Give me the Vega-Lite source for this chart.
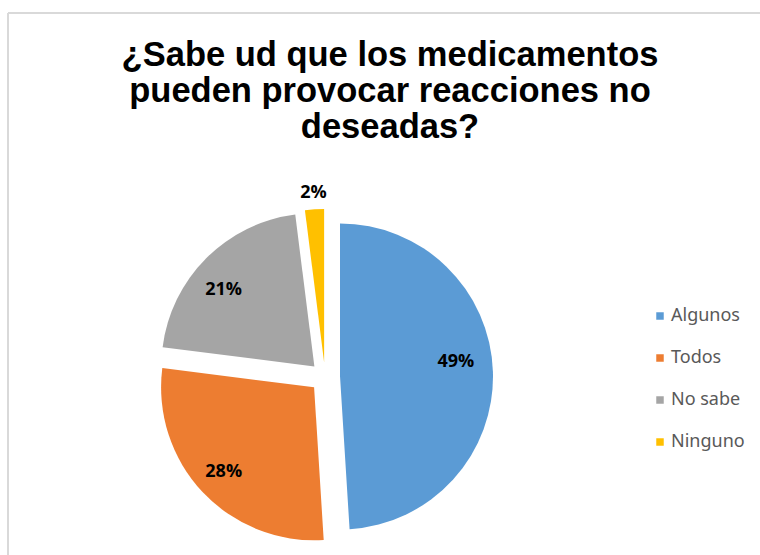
{
  "$schema": "https://vega.github.io/schema/vega-lite/v6.json",
  "autosize": {"type": "none"},
  "width": 752,
  "height": 542,
  "padding": {"left": 8, "top": 13, "right": 0, "bottom": 0},
  "background": "white",
  "config": {
    "view": {"stroke": null},
    "legend": {"padding": 0}
  },
  "title": {
    "text": ["¿Sabe ud que los medicamentos", "pueden provocar reacciones no", "deseadas?"],
    "font": "Liberation Sans",
    "fontSize": 34.5,
    "fontWeight": "bold",
    "color": "#000000",
    "anchor": "middle",
    "frame": "group",
    "baseline": "top",
    "lineHeight": 36,
    "offset": 0,
    "dx": 6,
    "dy": 133
  },
  "data": {
    "values": [
      {"cat": "Algunos", "pct": 0.49},
      {"cat": "Todos", "pct": 0.28},
      {"cat": "No sabe", "pct": 0.21},
      {"cat": "Ninguno", "pct": 0.02}
    ]
  },
  "encoding": {
    "theta": {"field": "pct", "type": "quantitative", "stack": true},
    "order": {"field": "pct", "type": "quantitative", "sort": "descending"},
    "color": {
      "field": "cat",
      "type": "nominal",
      "sort": ["Algunos", "Todos", "No sabe", "Ninguno"],
      "scale": {
        "domain": ["Algunos", "Todos", "No sabe", "Ninguno"],
        "range": ["#5B9BD5", "#ED7D31", "#A5A5A5", "#FFC000"]
      },
      "legend": {
        "orient": "none",
        "legendX": 643,
        "legendY": 294,
        "title": null,
        "symbolType": "square",
        "symbolSize": 56,
        "symbolStrokeWidth": 0,
        "symbolOpacity": 1,
        "labelFont": "Noto Sans",
        "labelFontSize": 18,
        "labelColor": "#595959",
        "labelOffset": 2,
        "rowPadding": 24
      }
    }
  },
  "layer": [
    {
      "data": {"values": [{"frame": "top"}]},
      "mark": {"type": "rule", "stroke": "#D9D9D9", "strokeWidth": 2},
      "encoding": {"theta": null, "order": null, "color": null, "y": {"value": 0}}
    },
    {
      "data": {"values": [{"frame": "left"}]},
      "mark": {"type": "rule", "stroke": "#D9D9D9", "strokeWidth": 2},
      "encoding": {"theta": null, "order": null, "color": null, "x": {"value": 0}}
    },
    {
      "mark": {"type": "arc", "radius": 153, "xOffset": -44, "yOffset": 92.5},
      "encoding": {"opacity": {"condition": {"test": "datum.cat === 'Algunos'", "value": 1}, "value": 0}}
    },
    {
      "mark": {"type": "arc", "radius": 153, "xOffset": -69.9, "yOffset": 103.3},
      "encoding": {"opacity": {"condition": {"test": "datum.cat === 'Todos'", "value": 1}, "value": 0}}
    },
    {
      "mark": {"type": "arc", "radius": 153, "xOffset": -69.6, "yOffset": 82.4},
      "encoding": {"opacity": {"condition": {"test": "datum.cat === 'No sabe'", "value": 1}, "value": 0}}
    },
    {
      "mark": {"type": "arc", "radius": 153, "xOffset": -59.9, "yOffset": 78.0},
      "encoding": {"opacity": {"condition": {"test": "datum.cat === 'Ninguno'", "value": 1}, "value": 0}}
    },
    {
      "mark": {"type": "text", "radius": 116, "xOffset": -44, "yOffset": 92.5, "dy": -11, "font": "Open Sans", "fontSize": 18, "fontWeight": "bold", "align": "center", "baseline": "middle"},
      "encoding": {
        "color": {"value": "#000000"},
        "text": {"condition": {"test": "datum.cat === 'Algunos'", "field": "pct", "type": "quantitative", "format": ".0%"}, "value": ""}
      }
    },
    {
      "mark": {"type": "text", "radius": 124, "xOffset": -69.9, "yOffset": 103.3, "font": "Open Sans", "fontSize": 18, "fontWeight": "bold", "align": "center", "baseline": "middle"},
      "encoding": {
        "color": {"value": "#000000"},
        "text": {"condition": {"test": "datum.cat === 'Todos'", "field": "pct", "type": "quantitative", "format": ".0%"}, "value": ""}
      }
    },
    {
      "mark": {"type": "text", "radius": 120, "xOffset": -69.6, "yOffset": 82.4, "dx": -6, "dy": 8, "font": "Open Sans", "fontSize": 18, "fontWeight": "bold", "align": "center", "baseline": "middle"},
      "encoding": {
        "color": {"value": "#000000"},
        "text": {"condition": {"test": "datum.cat === 'No sabe'", "field": "pct", "type": "quantitative", "format": ".0%"}, "value": ""}
      }
    },
    {
      "mark": {"type": "text", "radius": 169, "xOffset": -59.9, "yOffset": 78.0, "font": "Open Sans", "fontSize": 18, "fontWeight": "bold", "align": "center", "baseline": "middle"},
      "encoding": {
        "color": {"value": "#000000"},
        "text": {"condition": {"test": "datum.cat === 'Ninguno'", "field": "pct", "type": "quantitative", "format": ".0%"}, "value": ""}
      }
    }
  ]
}
